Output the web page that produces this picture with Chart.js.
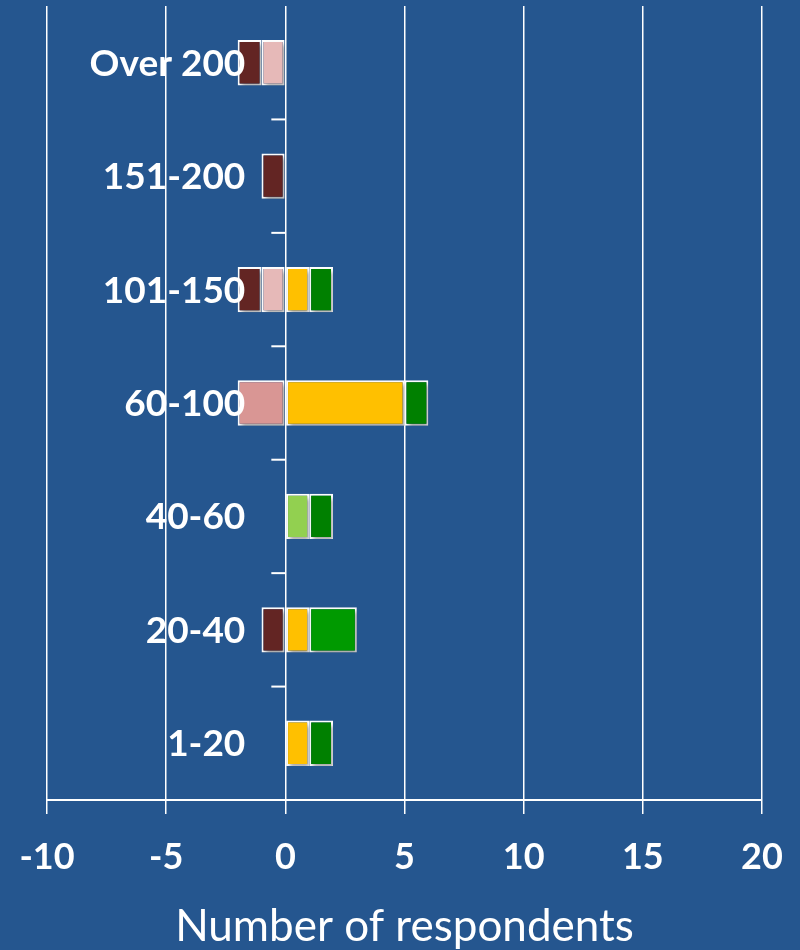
<!DOCTYPE html>
<html>
<head>
<meta charset="utf-8">
<script src="https://cdn.jsdelivr.net/npm/chart.js@4"></script>
<style>
  html, body { margin: 0; padding: 0; background: #25568F; }
  #wrap { width: 800px; height: 950px; }
</style>
</head>
<body>
<div id="wrap"><canvas id="chart" width="800" height="950"></canvas></div>
<script>
const categories = ["Over 200", "151-200", "101-150", "60-100", "40-60", "20-40", "1-20"];

// negative side (inner first, then outer)
const lightPink = [-1, 0, -1, 0, 0, 0, 0];
const midPink = [0, 0, 0, -2, 0, 0, 0];
const maroon = [-1, -1, -1, 0, 0, -1, 0];
// positive side (inner first)
const yellow = [0, 0, 1, 5, 0, 1, 1];
const lightGreen = [0, 0, 0, 0, 1, 0, 0];
const darkGreen = [0, 0, 1, 1, 1, 0, 1];
const brightGreen = [0, 0, 0, 0, 0, 2, 0];

const xTicks = [-10, -5, 0, 5, 10, 15, 20];

const FONT = "Lato, 'Open Sans', sans-serif";

const makeSet = (label, data, color) => ({
  label: label,
  data: data.map(v => (v === 0 ? null : v)),
  backgroundColor: color,
  borderColor: "#FFFFFF",
  borderWidth: 2,
  borderSkipped: false,
  barPercentage: 0.4,
  categoryPercentage: 1.0,
});

// category labels and small ticks drawn next to the zero line
const centerAxis = {
  id: "centerAxis",
  beforeDatasetsDraw(chart) {
    const ctx = chart.ctx;
    ctx.save();
    ctx.shadowColor = "rgba(0,0,0,0.35)";
    ctx.shadowOffsetX = 2;
    ctx.shadowOffsetY = 3;
    ctx.shadowBlur = 4;
  },
  afterDatasetsDraw(chart) {
    chart.ctx.restore();
    const ctx = chart.ctx;
    const x0 = chart.scales.x.getPixelForValue(0);
    const y = chart.scales.y;
    ctx.save();
    ctx.strokeStyle = "#FFFFFF";
    ctx.lineWidth = 2;
    for (let i = 1; i < categories.length; i++) {
      const py = (y.getPixelForTick(i - 1) + y.getPixelForTick(i)) / 2;
      ctx.beginPath();
      ctx.moveTo(x0 - 14, py);
      ctx.lineTo(x0, py);
      ctx.stroke();
    }
    ctx.fillStyle = "#FFFFFF";
    ctx.font = "bold 37px " + FONT;
    ctx.textAlign = "right";
    ctx.textBaseline = "middle";
    categories.forEach((c, i) => {
      ctx.fillText(c, x0 - 40, y.getPixelForTick(i) + 1);
    });
    ctx.restore();
  },
};

new Chart(document.getElementById("chart").getContext("2d"), {
  type: "bar",
  data: {
    labels: categories,
    datasets: [
      makeSet("Light pink", lightPink, "#E6B9B8"),
      makeSet("Mid pink", midPink, "#D99694"),
      makeSet("Maroon", maroon, "#632523"),
      makeSet("Yellow", yellow, "#FFC000"),
      makeSet("Light green", lightGreen, "#92D050"),
      makeSet("Dark green", darkGreen, "#008000"),
      makeSet("Bright green", brightGreen, "#009A00"),
    ],
  },
  options: {
    indexAxis: "y",
    responsive: false,
    animation: false,
    layout: { padding: { left: 47, right: 38, top: 6, bottom: 1 } },
    plugins: {
      legend: { display: false },
      tooltip: { enabled: false },
    },
    scales: {
      x: {
        stacked: true,
        min: -10,
        max: 20,
        afterBuildTicks: (axis) => {
          axis.ticks = xTicks.map(v => ({ value: v }));
        },
        afterFit: (axis) => {
          axis.height = 149;
          axis.paddingLeft = 0;
          axis.paddingRight = 0;
        },
        grid: {
          color: "#FFFFFF",
          lineWidth: 1.5,
          tickLength: 14,
        },
        border: { color: "#FFFFFF", width: 2 },
        ticks: {
          color: "#FFFFFF",
          font: { family: FONT, size: 36, weight: "bold", lineHeight: 1.2 },
          padding: 22,
        },
        title: {
          display: true,
          text: "Number of respondents",
          color: "#FFFFFF",
          font: { family: FONT, size: 44, lineHeight: 1.0 },
          padding: { top: 0, bottom: 0 },
        },
      },
      y: {
        stacked: true,
        display: false,
      },
    },
  },
  plugins: [centerAxis],
});
</script>
</body>
</html>
